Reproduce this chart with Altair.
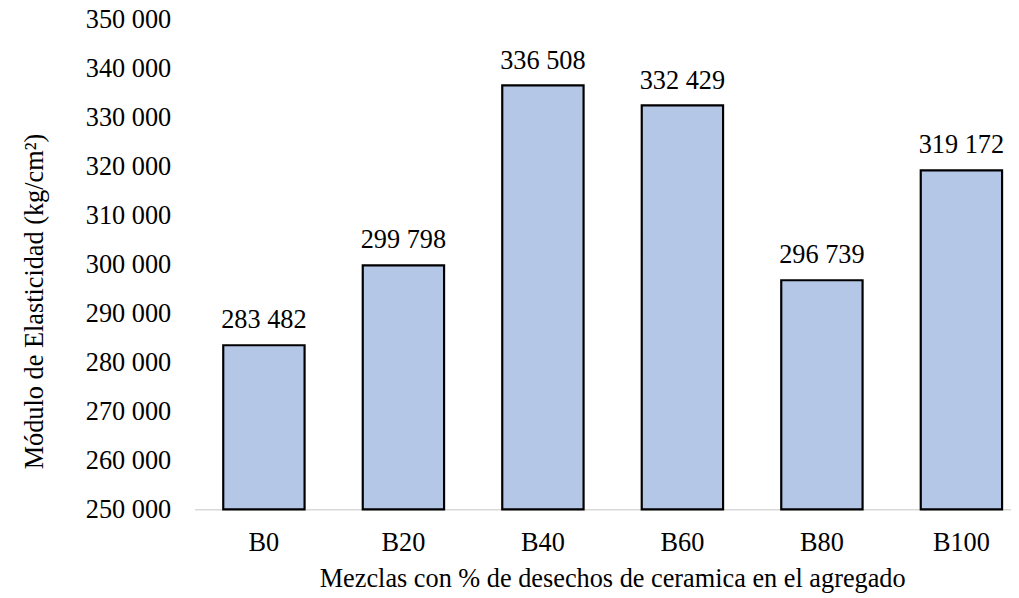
import altair as alt
import pandas as pd

categories = ["B0", "B20", "B40", "B60", "B80", "B100"]
values = [283482, 299798, 336508, 332429, 296739, 319172]
y_ticks = [250000, 260000, 270000, 280000, 290000, 300000, 310000, 320000, 330000, 340000, 350000]

df = pd.DataFrame({
    "mezcla": categories,
    "valor": values,
    "etiqueta": [f"{v:,}".replace(",", " ") for v in values],
})

FONT = "Liberation Serif"
FS = 26.5

x_scale = alt.Scale(paddingInner=0.417, paddingOuter=0.135, align=0.763)
y_scale = alt.Scale(domain=[250000, 350000], zero=False, nice=False)

x_enc = alt.X(
    "mezcla:N",
    sort=categories,
    scale=x_scale,
    axis=alt.Axis(
        title="Mezclas con % de desechos de ceramica en el agregado",
        labelAngle=0,
        ticks=False,
        labelPadding=41,
        labelBaseline="alphabetic",
        labelFontSize=FS,
        labelFont=FONT,
        labelColor="#000000",
        domainColor="#D9D9D9",
        domainWidth=1.5,
        titleFont=FONT,
        titleFontSize=FS,
        titleFontWeight="normal",
        titleColor="#000000",
        titleBaseline="alphabetic",
        titleX=421,
        titleY=78,
        grid=False,
    ),
)

y_enc = alt.Y(
    "valor:Q",
    scale=y_scale,
    axis=alt.Axis(
        title="Módulo de Elasticidad (kg/cm²)",
        values=y_ticks,
        labelExpr="replace(format(datum.value, ','), ',', ' ')",
        ticks=False,
        domain=False,
        grid=False,
        labelPadding=24,
        labelFontSize=FS,
        labelFont=FONT,
        labelColor="#000000",
        titleFont=FONT,
        titleFontSize=FS,
        titleFontWeight="normal",
        titleColor="#000000",
        titleBaseline="alphabetic",
        titleAngle=270,
        titleX=-153,
        titleY=284,
    ),
)

bars = alt.Chart(df).mark_bar(
    fill="#B4C7E7", stroke="#000000", strokeWidth=2.2
).encode(x=x_enc, y=y_enc, y2=alt.datum(250000))

labels = alt.Chart(df).mark_text(
    font=FONT, fontSize=FS, baseline="alphabetic", dy=-17, color="#000000"
).encode(
    x=alt.X("mezcla:N", sort=categories),
    y=alt.Y("valor:Q"),
    text="etiqueta:N",
)

chart = (
    alt.layer(bars, labels)
    .properties(
        width=823,
        height=494,
        background="#FFFFFF",
        autosize=alt.AutoSizeParams(type="none"),
        padding={"left": 188, "top": 9, "right": 0, "bottom": 85},
    )
    .configure_view(stroke=None, strokeWidth=0)
    .configure_axis(grid=False)
)

chart.save("out.html", embed_options={"renderer": "svg", "actions": False})
